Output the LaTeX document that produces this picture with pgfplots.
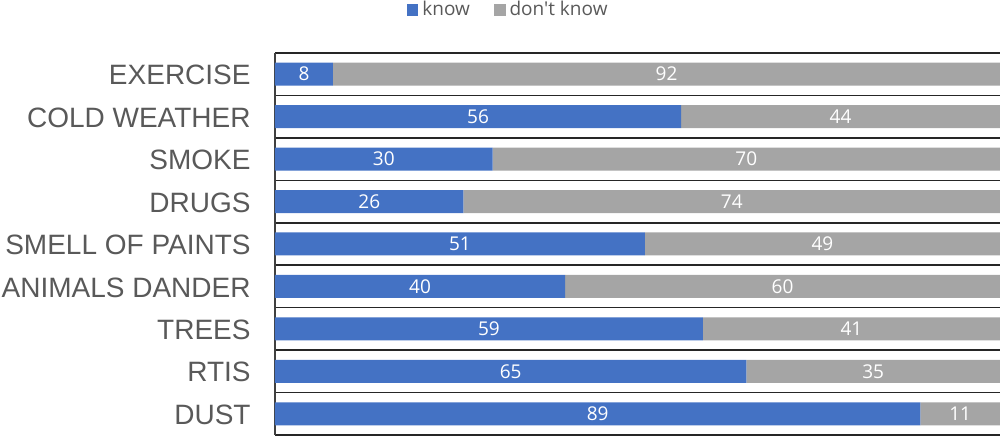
\documentclass[border=0pt]{standalone}
\usepackage{fontspec}
\setmainfont{Liberation Sans}
\newfontfamily\osans{Open Sans}
\usepackage{pgfplots}
\usepackage{pgfplotstable}
\pgfplotsset{compat=1.18}
\definecolor{cblue}{HTML}{4472C4}
\definecolor{cgray}{HTML}{A5A5A5}
\definecolor{ctext}{HTML}{595959}
\pgfplotstableread{
idx know dk
8 8 92
7 56 44
6 30 70
5 26 74
4 51 49
3 40 60
2 59 41
1 65 35
0 89 11
}\datatable
\begin{document}
\begin{tikzpicture}
\begin{axis}[
  name=ax,
  scale only axis,
  width=362.5pt, height=191pt,
  xbar stacked,
  bar width=11.5pt,
  xmin=0, xmax=100,
  ymin=-0.5, ymax=8.5,
  hide x axis,
  axis y line*=left,
  y axis line style={black!75, line width=0.8pt},
  ytick={0,...,8},
  yticklabels={DUST,RTIS,TREES,ANIMALS DANDER,SMELL OF PAINTS,DRUGS,SMOKE,COLD WEATHER,EXERCISE},
  ytick style={draw=none},
  yticklabel style={font=\fontsize{14}{16}\selectfont, text=ctext, inner sep=0pt, xshift=-12pt, yshift=-0.5pt},
  minor ytick={-0.5,0.5,...,8.5},
  yminorgrids=true,
  minor grid style={black!85, line width=0.8pt},
  minor tick length=0pt,
  /pgf/number format/assume math mode=true,
  nodes near coords={\pgfmathprintnumber{\pgfplotspointmeta}},
  every node near coord/.append style={text=white, font=\osans\fontsize{9.5}{11}\selectfont},
  legend style={at={(0.323,1)}, anchor=center, yshift=21.5pt, draw=none, fill=none,
    legend columns=2, font=\osans\fontsize{9.5}{11}\selectfont, text=ctext,
    /tikz/every even column/.append style={column sep=10pt},
    legend cell align=left},
  legend image code/.code={\fill[#1] (0pt,-2.9pt) rectangle (5.8pt,2.9pt);},
]
\addplot[fill=cblue, draw=none, point meta=explicit] table[x=know, y=idx, meta=know] {\datatable};
\addplot[fill=cgray, draw=none, point meta=explicit] table[x=dk, y=idx, meta=dk] {\datatable};
\legend{know, don't know}
\end{axis}
\pgfresetboundingbox
\path[use as bounding box] ([xshift=-137.5pt,yshift=-0.5pt]ax.south west) rectangle ([yshift=26.5pt]ax.north east);
\end{tikzpicture}
\end{document}
